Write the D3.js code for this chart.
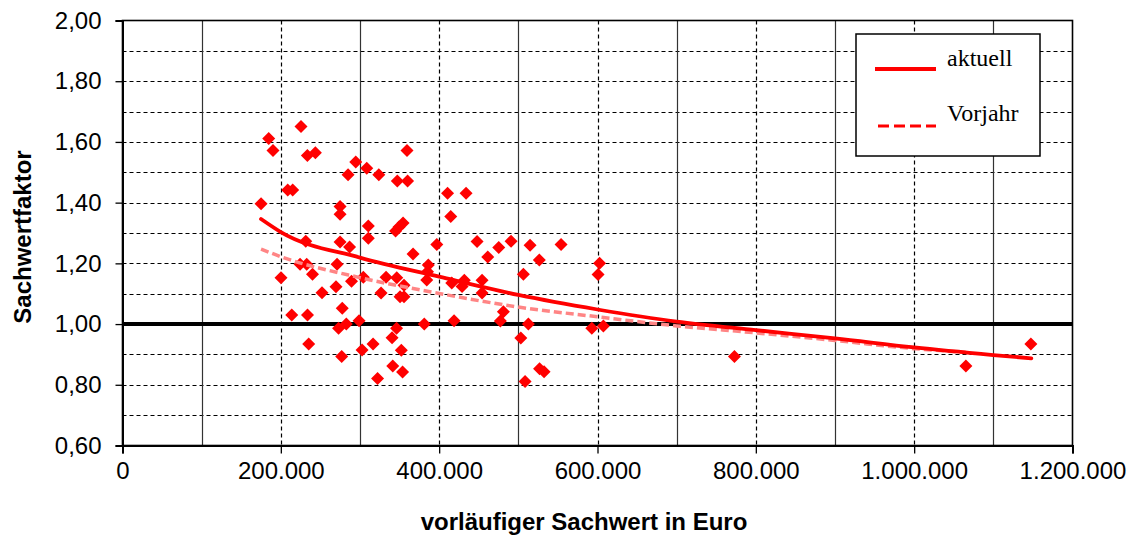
<!DOCTYPE html>
<html><head><meta charset="utf-8">
<script src="https://cdn.jsdelivr.net/npm/d3@7"></script>
<style>
html,body{margin:0;padding:0;background:#fff;}
svg{display:block;}
</style></head>
<body>
<svg id="chart" width="1136" height="542"></svg>
<script>
// ---- data ----
const sachwert = [225500,184700,190100,233500,243600,359400,294600,308500,284900,323800,
  347100,360100,208700,215000,410600,434000,175000,274800,274800,414600,
  310500,354400,349300,344900,310500,231500,274800,286800,397000,447900,
  475300,490800,514800,554000,367000,461400,526500,602600,600700,506400,
  224300,232700,271000,386300,385300,384300,240000,200200,289300,304200,
  332900,346400,355600,415900,431800,428900,454200,454200,269700,252000,
  326600,350600,355600,277600,481100,477300,213800,233700,272900,282700,
  298800,346200,381200,418800,512700,592800,607400,503100,340500,235200,
  316500,302600,352200,276900,341400,353800,322200,526800,532500,508500,
  773000,1065300,1147400];
const faktor = [1.651,1.611,1.572,1.555,1.564,1.572,1.534,1.513,1.492,1.492,
  1.471,1.471,1.442,1.442,1.431,1.431,1.396,1.387,1.362,1.354,
  1.323,1.333,1.320,1.307,1.283,1.273,1.270,1.254,1.262,1.272,
  1.252,1.273,1.260,1.262,1.231,1.221,1.211,1.200,1.163,1.164,
  1.197,1.197,1.197,1.195,1.172,1.145,1.164,1.153,1.141,1.154,
  1.154,1.153,1.128,1.135,1.144,1.124,1.144,1.102,1.123,1.103,
  1.102,1.090,1.090,1.052,1.041,1.010,1.030,1.030,0.986,1.000,
  1.011,0.986,1.000,1.011,1.000,0.986,0.994,0.954,0.955,0.934,
  0.934,0.915,0.914,0.893,0.862,0.842,0.821,0.853,0.843,0.811,
  0.893,0.862,0.934];
const aktuellX = [175000,200000,300000,400000,500000,600000,700000,800000,900000,1000000,1100000,1148000];
const aktuellY = [1.346,1.303,1.219,1.156,1.096,1.048,1.008,0.980,0.953,0.923,0.898,0.887];
const vorjahrX = [175000,200000,300000,400000,500000,600000,700000,800000,900000,1000000,1065000];
const vorjahrY = [1.247,1.222,1.153,1.101,1.056,1.024,0.994,0.971,0.946,0.919,0.907];
const xTickValues = [0,200000,400000,600000,800000,1000000,1200000];
const xTickLabels = ["0","200.000","400.000","600.000","800.000","1.000.000","1.200.000"];
const yTickValues = [0.6,0.8,1.0,1.2,1.4,1.6,1.8,2.0];
const yTickLabels = ["0,60","0,80","1,00","1,20","1,40","1,60","1,80","2,00"];
const yGridValues = [0.7,0.8,0.9,1.1,1.2,1.3,1.4,1.5,1.6,1.7,1.8,1.9];
const xGridValues = [100000,200000,300000,400000,500000,600000,700000,800000,900000,1000000,1100000];
const seriesNames = ["aktuell","Vorjahr"];
const xTitle = "vorläufiger Sachwert in Euro";
const yTitle = "Sachwertfaktor";

// ---- drawing ----
const svg = d3.select("#chart");
const x = d3.scaleLinear().domain([0,1200000]).range([122.5,1072.5]);
const y = d3.scaleLinear().domain([0.6,2.0]).range([445.5,20.5]);
const RED = "#ff0000", PINK = "#ff8585";
const sans = "'Liberation Sans', Arial, sans-serif";
const serif = "'Liberation Serif', 'Times New Roman', serif";

svg.append("rect").attr("width",1136).attr("height",542).attr("fill","#fff");

// grid
const grid = svg.append("g");
grid.selectAll("line.hg").data(yGridValues).join("line")
  .attr("x1",x(0)).attr("x2",x(1200000))
  .attr("y1",d=>Math.round(y(d))+0.5).attr("y2",d=>Math.round(y(d))+0.5)
  .attr("stroke","#000").attr("stroke-width",1.2).attr("stroke-dasharray","4,3");
grid.selectAll("line.vg").data(xGridValues).join("line")
  .attr("x1",d=>Math.round(x(d))+0.5).attr("x2",d=>Math.round(x(d))+0.5)
  .attr("y1",y(2.0)).attr("y2",y(0.6))
  .attr("stroke",d=>(d/100000)%2===0?"#000":"#333")
  .attr("stroke-width",1.2)
  .attr("stroke-dasharray",d=>(d/100000)%2===0?"4,3":null);

// plot frame
svg.append("rect").attr("x",x(0)).attr("y",y(2.0))
  .attr("width",x(1200000)-x(0)).attr("height",y(0.6)-y(2.0))
  .attr("fill","none").attr("stroke","#000").attr("stroke-width",1.6);

// 1,00 reference line
svg.append("line").attr("x1",x(0)).attr("x2",x(1200000))
  .attr("y1",y(1.0)).attr("y2",y(1.0)).attr("stroke","#000").attr("stroke-width",4);

// axes
const xAxis = d3.axisBottom(x).tickValues(xTickValues)
  .tickFormat((d,i)=>xTickLabels[i]).tickSize(8).tickPadding(8);
const gx = svg.append("g").attr("transform",`translate(0,${y(0.6)})`).call(xAxis);
const yAxis = d3.axisLeft(y).tickValues(yTickValues)
  .tickFormat((d,i)=>yTickLabels[i]).tickSize(7).tickPadding(14);
const gy = svg.append("g").attr("transform",`translate(${x(0)},0)`).call(yAxis);
[gx,gy].forEach(g=>{
  g.select(".domain").attr("stroke","#000").attr("stroke-width",2);
  g.selectAll(".tick line").attr("stroke","#000").attr("stroke-width",1.3);
  g.selectAll(".tick text").attr("fill","#000").style("font-family",sans).style("font-size","24px");
});

// markers
const diamond = "M0,-6.5L6.5,0L0,6.5L-6.5,0Z";
svg.append("g").selectAll("path").data(sachwert).join("path")
  .attr("d",diamond)
  .attr("transform",(d,i)=>`translate(${x(d)},${y(faktor[i])})`)
  .attr("fill",RED);

// trend lines
const line = d3.line().x(d=>x(d[0])).y(d=>y(d[1])).curve(d3.curveMonotoneX);
svg.append("path").datum(vorjahrX.map((v,i)=>[v,vorjahrY[i]]))
  .attr("d",line).attr("fill","none").attr("stroke",PINK)
  .attr("stroke-width",3.5).attr("stroke-dasharray","8,4");
svg.append("path").datum(aktuellX.map((v,i)=>[v,aktuellY[i]]))
  .attr("d",line).attr("fill","none").attr("stroke",RED)
  .attr("stroke-width",3.8).attr("stroke-linecap","round");

// legend
const lg = svg.append("g");
lg.append("rect").attr("x",856).attr("y",34).attr("width",184).attr("height",122)
  .attr("fill","#fff").attr("stroke","#000").attr("stroke-width",1.5);
lg.append("line").attr("x1",875).attr("x2",936).attr("y1",69).attr("y2",69)
  .attr("stroke",RED).attr("stroke-width",4);
lg.append("line").attr("x1",878).attr("x2",936).attr("y1",126).attr("y2",126)
  .attr("stroke",RED).attr("stroke-width",3).attr("stroke-dasharray","11,5");
lg.selectAll("text").data(seriesNames).join("text")
  .attr("x",947).attr("y",(d,i)=>i===0?66:121)
  .style("font-family",serif).style("font-size","24px").attr("fill","#000")
  .text(d=>d);

// titles
svg.append("text").attr("x",584).attr("y",530).attr("text-anchor","middle")
  .style("font-family",sans).style("font-size","24px").style("font-weight","bold")
  .text(xTitle);
svg.append("text").attr("transform","translate(31,237) rotate(-90)").attr("text-anchor","middle")
  .style("font-family",sans).style("font-size","24px").style("font-weight","bold")
  .text(yTitle);
</script>
</body></html>
